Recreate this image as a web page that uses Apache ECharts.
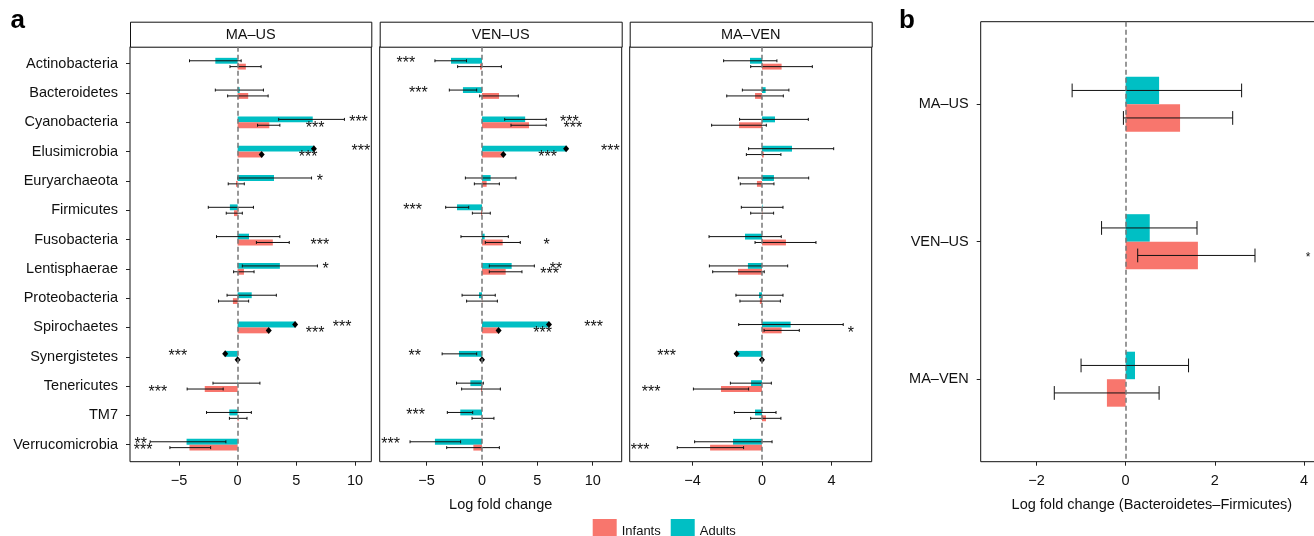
<!DOCTYPE html>
<html>
<head>
<meta charset="utf-8">
<script src="https://cdn.jsdelivr.net/npm/echarts@6/dist/echarts.min.js"></script>
<style>
  html, body { margin: 0; padding: 0; background: #fff; }
  #chart { width: 1314px; height: 536px; }
</style>
</head>
<body>
<div id="chart"></div>
<script>
// phyla, top to bottom
var phyla = ['Actinobacteria', 'Bacteroidetes', 'Cyanobacteria', 'Elusimicrobia', 'Euryarchaeota',
  'Firmicutes', 'Fusobacteria', 'Lentisphaerae', 'Proteobacteria', 'Spirochaetes',
  'Synergistetes', 'Tenericutes', 'TM7', 'Verrucomicrobia'];

// [log fold change, lower, upper]  (null bounds = no interval, drawn as a diamond)
var maUsAdults = [[-1.9, -4.1, 0.3], [0.17, -1.9, 2.2], [6.4, 3.5, 9.1], [6.5, null, null], [3.1, 0.0, 6.3],
  [-0.66, -2.5, 1.35], [0.97, -1.8, 3.6], [3.6, 0.4, 6.8], [1.2, -0.9, 3.3], [4.9, null, null],
  [-1.06, null, null], [0.02, -2.1, 1.9], [-0.71, -2.65, 1.17], [-4.35, -7.45, -1.0]];
var maUsInfants = [[0.7, -0.65, 2.0], [0.9, -0.85, 2.6], [2.7, 1.7, 3.6], [2.05, null, null], [-0.14, -0.8, 0.57],
  [-0.31, -0.97, 0.4], [3.0, 1.6, 4.4], [0.54, -0.34, 1.4], [-0.4, -1.63, 0.94], [2.65, null, null],
  [0.0, null, null], [-2.8, -4.3, -1.23], [0.08, -0.7, 0.8], [-4.1, -5.77, -2.3]];

var venUsAdults = [[-2.8, -4.25, -1.4], [-1.72, -2.95, -0.48], [3.9, 2.05, 5.8], [7.6, null, null], [0.78, -1.5, 3.07],
  [-2.26, -3.28, -1.2], [0.24, -1.9, 2.38], [2.68, 0.66, 4.73], [-0.27, -1.8, 1.2], [6.05, null, null],
  [-2.08, -3.6, -0.48], [-1.05, -2.3, 0.12], [-1.96, -3.13, -0.84], [-4.25, -6.5, -1.93]];
var venUsInfants = [[-0.18, -2.2, 1.75], [1.54, -0.21, 3.28], [4.25, 2.62, 5.8], [1.93, null, null], [0.42, -0.69, 1.57],
  [-0.09, -0.87, 0.75], [1.87, 0.3, 3.46], [2.14, 0.66, 3.61], [0.02, -1.39, 1.39], [1.5, null, null],
  [0.0, null, null], [-0.09, -1.84, 1.66], [0.03, -0.9, 1.08], [-0.78, -3.19, 1.57]];

var maVenAdults = [[-0.69, -2.21, 0.86], [0.21, -1.13, 1.55], [0.75, -1.29, 2.67], [1.73, -0.77, 4.13], [0.69, -1.36, 2.69],
  [0.03, -1.19, 1.21], [-0.98, -3.05, 1.11], [-0.81, -3.03, 1.48], [-0.17, -1.5, 1.21], [1.65, -1.34, 4.68],
  [-1.46, null, null], [-0.63, -1.82, 0.54], [-0.4, -1.59, 0.81], [-1.67, -3.88, 0.58]];
var maVenInfants = [[1.13, -0.65, 2.9], [-0.4, -2.03, 1.23], [-1.32, -2.9, 0.25], [0.1, -0.9, 1.09], [-0.29, -1.25, 0.69],
  [0.02, -0.65, 0.67], [1.38, -0.4, 3.11], [-1.38, -2.84, 0.13], [-0.12, -1.27, 1.06], [1.13, 0.12, 2.15],
  [0.0, null, null], [-2.36, -3.95, -0.77], [0.23, -0.65, 1.09], [-2.99, -4.88, -1.06]];

// significance marks: [row, group, x position, text]
var maUsStars = [['Cyanobacteria', 'Adults', 10.3, '***'], ['Cyanobacteria', 'Infants', 6.6, '***'],
  ['Elusimicrobia', 'Adults', 10.5, '***'], ['Elusimicrobia', 'Infants', 6.0, '***'],
  ['Euryarchaeota', 'Adults', 7.0, '*'], ['Fusobacteria', 'Infants', 7.0, '***'],
  ['Lentisphaerae', 'Adults', 7.5, '*'], ['Spirochaetes', 'Adults', 8.9, '***'],
  ['Spirochaetes', 'Infants', 6.6, '***'], ['Synergistetes', 'Adults', -5.1, '***'],
  ['Tenericutes', 'Infants', -6.8, '***'], ['Verrucomicrobia', 'Adults', -8.25, '**'],
  ['Verrucomicrobia', 'Infants', -8.05, '***']];
var venUsStars = [['Actinobacteria', 'Adults', -6.87, '***'], ['Bacteroidetes', 'Adults', -5.75, '***'],
  ['Cyanobacteria', 'Adults', 7.9, '***'], ['Cyanobacteria', 'Infants', 8.2, '***'],
  ['Elusimicrobia', 'Adults', 11.6, '***'], ['Elusimicrobia', 'Infants', 5.93, '***'],
  ['Firmicutes', 'Adults', -6.26, '***'], ['Fusobacteria', 'Infants', 5.84, '*'],
  ['Lentisphaerae', 'Adults', 6.69, '**'], ['Lentisphaerae', 'Infants', 6.11, '***'],
  ['Spirochaetes', 'Adults', 10.09, '***'], ['Spirochaetes', 'Infants', 5.48, '***'],
  ['Synergistetes', 'Adults', -6.08, '**'], ['TM7', 'Adults', -5.99, '***'],
  ['Verrucomicrobia', 'Adults', -8.25, '***']];
var maVenStars = [['Spirochaetes', 'Infants', 5.12, '*'], ['Synergistetes', 'Adults', -5.49, '***'],
  ['Tenericutes', 'Infants', -6.39, '***'], ['Verrucomicrobia', 'Infants', -7.02, '***']];

// panel b: Bacteroidetes-Firmicutes ratio
var comparisons = ['MA–US', 'VEN–US', 'MA–VEN'];
var ratioAdults = [[0.75, -1.2, 2.6], [0.54, -0.54, 1.6], [0.21, -1.0, 1.41]];
var ratioInfants = [[1.22, -0.05, 2.4], [1.62, 0.27, 2.9], [-0.42, -1.6, 0.75]];
var ratioStars = [['VEN–US', 'Infants', 4.09, '*']];

var ticksMaUs = [-5, 0, 5, 10];
var ticksVenUs = [-5, 0, 5, 10];
var ticksMaVen = [-4, 0, 4];
var ticksRatio = [-2, 0, 2, 4];

var RED = '#F8766D', TEAL = '#00BFC4', FONT = '"Liberation Sans", Arial, sans-serif';

var chart = echarts.init(document.getElementById('chart'), null, { renderer: 'canvas' });

function minusFmt(v) {
  return v < 0 ? '\u2212' + (-v) : String(v);
}

// bar + error bar (or diamond when no interval)
function barRenderer(rows, dir) {
  return function (params, api) {
    var r = params.dataIndex;
    var d = rows[r];
    var unit = Math.abs(api.size([0, 1])[1]);
    var base = api.coord([0, r]);
    var end = api.coord([d[0], r]);
    var yc = base[1] + dir * unit * 0.1;
    var h = unit * 0.2;
    var kids = [{
      type: 'rect',
      shape: { x: Math.min(base[0], end[0]), y: yc - h / 2, width: Math.abs(end[0] - base[0]), height: h },
      style: { fill: api.visual('color') }
    }];
    if (d[1] == null) {
      kids.push({
        type: 'polygon',
        shape: { points: [[end[0], yc - 3.5], [end[0] + 3, yc], [end[0], yc + 3.5], [end[0] - 3, yc]] },
        style: { fill: '#000' }
      });
    } else {
      var lo = api.coord([d[1], r])[0], hi = api.coord([d[2], r])[0], c = unit * 0.05;
      var ls = { stroke: '#111', lineWidth: 1 };
      kids.push({ type: 'line', shape: { x1: lo, y1: yc, x2: hi, y2: yc }, style: ls });
      kids.push({ type: 'line', shape: { x1: lo, y1: yc - c, x2: lo, y2: yc + c }, style: ls });
      kids.push({ type: 'line', shape: { x1: hi, y1: yc - c, x2: hi, y2: yc + c }, style: ls });
    }
    return { type: 'group', children: kids };
  };
}

function starRenderer(list, size) {
  return function (params, api) {
    var s = list[params.dataIndex];
    var p = api.coord([api.value(0), api.value(1)]);
    return {
      type: 'text', x: p[0], y: p[1] + size * 0.2,
      style: { text: s[3], fill: '#111', font: size + 'px ' + FONT, align: 'center', verticalAlign: 'middle',
        textAlign: 'center', textVerticalAlign: 'middle' }
    };
  };
}

function starData(list, cats) {
  return list.map(function (s) {
    return [s[2], cats.indexOf(s[0]) + (s[1] === 'Adults' ? -0.1 : 0.1)];
  });
}

var zeroLine = {
  silent: true, symbol: 'none', label: { show: false },
  lineStyle: { type: [5, 3], color: '#777', width: 1.5 },
  data: [{ xAxis: 0 }]
};

var panels = [
  { title: 'MA–US', left: 130, width: 241.3, min: -9.17, max: 11.39, adults: maUsAdults, infants: maUsInfants, stars: maUsStars, ticks: ticksMaUs },
  { title: 'VEN–US', left: 379.7, width: 242, min: -9.24, max: 12.62, adults: venUsAdults, infants: venUsInfants, stars: venUsStars, ticks: ticksVenUs },
  { title: 'MA–VEN', left: 629.7, width: 242, min: -7.62, max: 6.32, adults: maVenAdults, infants: maVenInfants, stars: maVenStars, ticks: ticksMaVen }
];

var grids = [], xAxes = [], yAxes = [], series = [], graphics = [];
var rowIdx = phyla.map(function (p, i) { return i; });
var axisText = { color: '#111', fontSize: 14.5, fontFamily: FONT };

panels.forEach(function (p, i) {
  grids.push({ left: p.left, top: 46.7, width: p.width, height: 415, show: true, borderColor: '#111', borderWidth: 1, backgroundColor: 'transparent' });
  xAxes.push({
    gridIndex: i, type: 'value', min: p.min, max: p.max,
    axisLine: { show: false, onZero: false },
    axisTick: { show: true, length: 4, customValues: p.ticks, lineStyle: { color: '#222' } },
    axisLabel: Object.assign({ customValues: p.ticks, margin: 12, formatter: minusFmt }, axisText),
    splitLine: { show: false },
    name: i === 1 ? 'Log fold change' : '', nameLocation: 'middle', nameGap: 36,
    nameTextStyle: axisText
  });
  yAxes.push({
    gridIndex: i, type: 'value', inverse: true, min: -0.58, max: 13.58,
    axisLine: { show: false, onZero: false },
    axisTick: { show: i === 0, length: 4, customValues: rowIdx, lineStyle: { color: '#222' } },
    axisLabel: Object.assign({ show: i === 0, customValues: rowIdx, margin: 12, formatter: function (v) { return phyla[v]; } }, axisText),
    splitLine: { show: false }
  });
  series.push({
    type: 'custom', name: 'Adults', xAxisIndex: i, yAxisIndex: i,
    itemStyle: { color: TEAL }, renderItem: barRenderer(p.adults, -1),
    data: p.adults.map(function (d, r) { return [d[0], r]; })
  });
  series.push({
    type: 'custom', name: 'Infants', xAxisIndex: i, yAxisIndex: i,
    itemStyle: { color: RED }, renderItem: barRenderer(p.infants, 1),
    data: p.infants.map(function (d, r) { return [d[0], r]; }),
    markLine: zeroLine
  });
  series.push({
    type: 'custom', xAxisIndex: i, yAxisIndex: i, silent: true,
    renderItem: starRenderer(p.stars, 16), data: starData(p.stars, phyla)
  });
  graphics.push({
    type: 'rect', left: p.left, top: 21.7,
    shape: { width: p.width, height: 25 },
    style: { fill: '#fff', stroke: '#111', lineWidth: 1 }
  });
  graphics.push({
    type: 'text', x: p.left + p.width / 2, y: 34.5,
    style: { text: p.title, font: '14.5px ' + FONT, fill: '#111', align: 'center', verticalAlign: 'middle',
      textAlign: 'center', textVerticalAlign: 'middle' }
  });
});

// panel b (its right edge runs off the page, so only three sides of the frame show)
grids.push({ left: 980.7, top: 21.7, width: 333.3, height: 440, show: false });
xAxes.push({
  gridIndex: 3, type: 'value', min: -3.25, max: 4.223,
  axisLine: { show: false, onZero: false },
  axisTick: { show: true, length: 4, customValues: ticksRatio, lineStyle: { color: '#222' } },
  axisLabel: Object.assign({ customValues: ticksRatio, margin: 12, formatter: minusFmt }, axisText),
  splitLine: { show: false },
  name: 'Log fold change (Bacteroidetes–Firmicutes)', nameLocation: 'middle', nameGap: 36,
  nameTextStyle: Object.assign({ padding: [0, 0, 0, 9] }, axisText)
});
yAxes.push({
  gridIndex: 3, type: 'value', inverse: true, min: -0.6, max: 2.6,
  axisLine: { show: false, onZero: false },
  axisTick: { show: true, length: 4, customValues: [0, 1, 2], lineStyle: { color: '#222' } },
  axisLabel: Object.assign({ customValues: [0, 1, 2], margin: 12, formatter: function (v) { return comparisons[v]; } }, axisText),
  splitLine: { show: false }
});
series.push({
  type: 'custom', name: 'Adults', xAxisIndex: 3, yAxisIndex: 3,
  itemStyle: { color: TEAL }, renderItem: barRenderer(ratioAdults, -1),
  data: ratioAdults.map(function (d, r) { return [d[0], r]; })
});
series.push({
  type: 'custom', name: 'Infants', xAxisIndex: 3, yAxisIndex: 3,
  itemStyle: { color: RED }, renderItem: barRenderer(ratioInfants, 1),
  data: ratioInfants.map(function (d, r) { return [d[0], r]; }),
  markLine: zeroLine
});
series.push({
  type: 'custom', xAxisIndex: 3, yAxisIndex: 3, silent: true,
  renderItem: starRenderer(ratioStars, 12), data: starData(ratioStars, comparisons)
});
graphics.push({
  type: 'polyline',
  shape: { points: [[1320, 21.7], [980.7, 21.7], [980.7, 461.7], [1320, 461.7]] },
  style: { stroke: '#111', lineWidth: 1, fill: null }
});

// panel letters
graphics.push({ type: 'text', x: 10.5, y: 20.5, style: { text: 'a', font: 'bold 26px ' + FONT, fill: '#000', verticalAlign: 'middle', textVerticalAlign: 'middle' } });
graphics.push({ type: 'text', x: 899, y: 21, style: { text: 'b', font: 'bold 26px ' + FONT, fill: '#000', verticalAlign: 'middle', textVerticalAlign: 'middle' } });

chart.setOption({
  animation: false,
  backgroundColor: '#fff',
  textStyle: { fontFamily: FONT },
  legend: {
    data: ['Infants', 'Adults'], left: 592.7, top: 519, padding: 0,
    itemWidth: 24, itemHeight: 24, itemGap: 10, icon: 'rect',
    textStyle: { fontSize: 13, color: '#111', fontFamily: FONT }
  },
  grid: grids,
  xAxis: xAxes,
  yAxis: yAxes,
  series: series,
  graphic: graphics
});
</script>
</body>
</html>
